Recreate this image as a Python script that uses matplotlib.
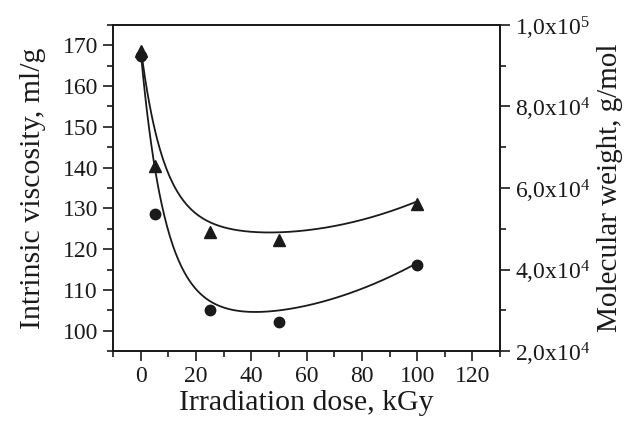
import numpy as np
import matplotlib
matplotlib.use("Agg")
import matplotlib.pyplot as plt
from matplotlib.ticker import MultipleLocator, FixedLocator

plt.rcParams['font.family'] = ['Liberation Serif', 'DejaVu Serif']
plt.rcParams['mathtext.fontset'] = 'custom'
plt.rcParams['mathtext.rm'] = 'Liberation Serif'
plt.rcParams['mathtext.default'] = 'regular'

# measured points
dose = [0, 5, 25, 50, 100]
viscosity = [167.5, 128.7, 105.2, 102.1, 116.0]          # ml/g, circles
mol_weight = [93500, 65500, 49200, 47200, 56200]          # g/mol, triangles

# fitted curves
visc_fit_x = [0, 2, 4.7, 6.3, 9.3, 14.1, 20.2, 27.4, 35.9, 45.5, 56.4, 68.5, 80.5, 92.6, 100]
visc_fit_y = [167.5, 156.5, 141.9, 133.7, 125.4, 117.2, 110.7, 106.6, 104.5, 104.1, 105.3, 107.8, 111.1, 114.4, 116.0]
mw_fit_x = [0, 0.8, 3.3, 5.7, 8.7, 11.7, 16.6, 22.6, 29.8, 35.9, 44.3, 56.4, 68.5, 80.5, 92.6, 100]
mw_fit_y = [93500, 91500, 80000, 71800, 64400, 61900, 57000, 52900, 50000, 49000, 48600, 49200, 50900, 52900, 55000, 56200]


def smooth_curve(xs, ys):
    """least squares a + b*x + d*x^2 + c*exp(-x/t), best t from a grid"""
    xs = np.asarray(xs, float)
    ys = np.asarray(ys, float)
    best = None
    for t in np.linspace(1.5, 30, 300):
        A = np.column_stack([np.ones_like(xs), xs, xs**2, np.exp(-xs / t)])
        coef, *_ = np.linalg.lstsq(A, ys, rcond=None)
        err = np.sum((A @ coef - ys)**2)
        if best is None or err < best[0]:
            best = (err, t, coef)
    _, t, coef = best
    xx = np.linspace(xs.min(), xs.max(), 400)
    A = np.column_stack([np.ones_like(xx), xx, xx**2, np.exp(-xx / t)])
    return xx, A @ coef


fig = plt.figure(figsize=(6.29, 4.23), dpi=100)
ax = fig.add_axes([0.180, 0.170, 0.615, 0.771])
ax2 = ax.twinx()

vx, vy = smooth_curve(visc_fit_x, visc_fit_y)
mx, my = smooth_curve(mw_fit_x, mw_fit_y)
ax.plot(vx, vy, color='#1a1a1a', lw=1.3)
ax.plot(dose, viscosity, 'o', color='#1a1a1a', ms=7.5)
ax2.plot(mx, my, color='#1a1a1a', lw=1.3)
ax2.plot(dose, mol_weight, '^', color='#1a1a1a', ms=8)

ax.set_xlim(-10, 130)
ax.set_ylim(95, 175)
ax2.set_ylim(20000, 100000)

ax.xaxis.set_major_locator(MultipleLocator(20))
ax.xaxis.set_minor_locator(MultipleLocator(10))
ax.yaxis.set_major_locator(FixedLocator(range(100, 171, 10)))
ax.yaxis.set_minor_locator(FixedLocator(range(95, 176, 10)))
ax2.yaxis.set_minor_locator(MultipleLocator(10000))

mw_ticks = [20000, 40000, 60000, 80000, 100000]
mw_labels = ['2,0x10$^{4}$', '4,0x10$^{4}$', '6,0x10$^{4}$', '8,0x10$^{4}$', '1,0x10$^{5}$']
ax2.set_yticks(mw_ticks)
ax2.set_yticklabels(mw_labels)

for a in (ax, ax2):
    for s in a.spines.values():
        s.set_linewidth(1.3)
        s.set_color('#1a1a1a')
    a.tick_params(which='major', length=7, width=1.2, labelsize=17, colors='#1a1a1a', pad=4)
    a.tick_params(which='minor', length=4, width=1.2, colors='#1a1a1a')

ax.set_xlabel('Irradiation dose, kGy', fontsize=21.5, color='#1a1a1a', labelpad=2)
ax.set_ylabel('Intrinsic viscosity, ml/g', fontsize=21.5, color='#1a1a1a', labelpad=12)
ax2.set_ylabel('Molecular weight, g/mol', fontsize=21, color='#1a1a1a', labelpad=5)

fig.savefig('out.png', dpi=100)
